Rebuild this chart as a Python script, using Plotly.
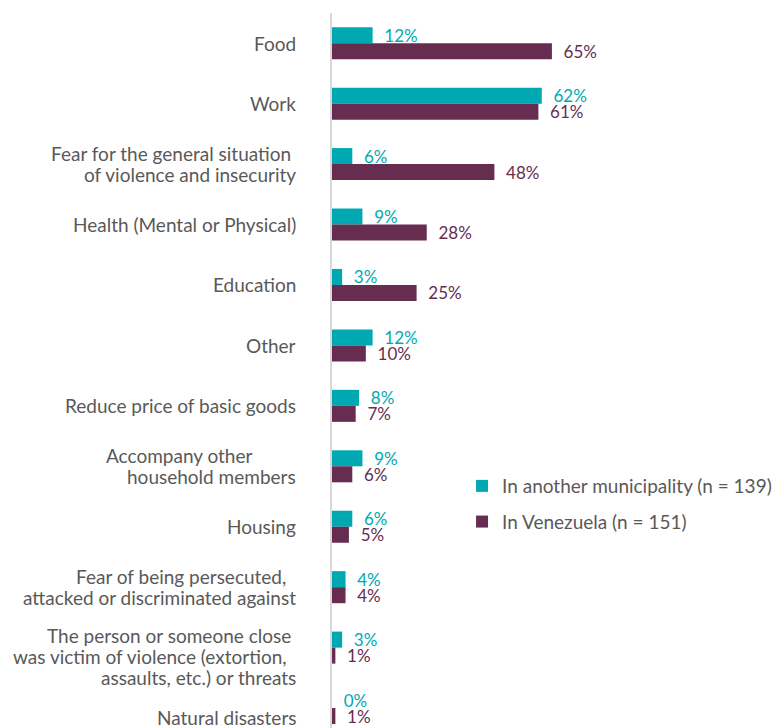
import plotly.graph_objects as go

NB = "\u00a0"

categories = [
    "Food",
    "Work",
    "Fear for the general situation" + NB + "<br>of violence and insecurity",
    "Health (Mental or Physical)",
    "Education",
    "Other",
    "Reduce price of basic goods",
    "Accompany other" + NB * 9 + "<br>household members",
    "Housing",
    "Fear of being persecuted," + NB * 2 + "<br>attacked or discriminated against",
    "The person or someone close" + NB + "<br>was victim of violence (extortion," + NB * 2
    + "<br>assaults, etc.) or threats",
    "Natural disasters",
]
another_municipality = [12, 62, 6, 9, 3, 12, 8, 9, 6, 4, 3, 0]
in_venezuela = [65, 61, 48, 28, 25, 10, 7, 6, 5, 4, 1, 1]

TEAL = "#00A9B1"
PURPLE = "#662D51"
GREY = "#595959"
FONT = "Lato"
LINE_H = 21  # px between wrapped label lines

fig = go.Figure()

series = [
    ("In another municipality (n = 139)", another_municipality, TEAL, "a"),
    ("In Venezuela (n = 151)", in_venezuela, PURPLE, "b"),
]
for name, vals, color, grp in series:
    fig.add_trace(go.Bar(
        y=categories, x=vals, orientation="h", name=name,
        marker=dict(color=color, line=dict(width=0)),
        text=[f"{NB * 2}{v}%" for v in vals],
        textposition="outside", cliponaxis=False, constraintext="none",
        textfont=dict(family=FONT, size=17, color=color),
        legendgroup=grp,
    ))

# category labels drawn line by line so the line spacing stays tight
for i, cat in enumerate(categories):
    lines = cat.split("<br>")
    n = len(lines)
    nudge = -9 if i >= len(categories) - 2 else 0
    for j, line in enumerate(lines):
        fig.add_annotation(
            x=0, xref="paper", y=cat, yref="y",
            text=line, showarrow=False,
            xanchor="right", yanchor="middle", align="right",
            xshift=-34, yshift=((n - 1) / 2 - j) * LINE_H + nudge,
            font=dict(family=FONT, size=19, color=GREY),
        )

# page body has an 8px margin, so the figure is 8px smaller and offsets shrink by 8
fig.update_layout(
    width=774, height=720,
    margin=dict(l=324, r=0, t=5, b=0, autoexpand=False),
    paper_bgcolor="white", plot_bgcolor="white",
    barmode="group", bargap=0.47, bargroupgap=0,
    font=dict(family=FONT, color=GREY, size=19),
    showlegend=True,
    legend=dict(
        x=0.289, y=0.365, xanchor="left", yanchor="top",
        traceorder="grouped", tracegroupgap=8,
        font=dict(family=FONT, size=19, color=GREY),
        bgcolor="rgba(0,0,0,0)",
    ),
    xaxis=dict(range=[0, 133], visible=False, fixedrange=True, automargin=False),
    yaxis=dict(
        type="category", categoryorder="array", categoryarray=categories,
        range=[11.33, -0.5], showgrid=False, zeroline=False, automargin=False,
        showline=True, linecolor="#D9D9D9", linewidth=2,
        ticks="", showticklabels=False,
    ),
)

fig.write_html("out.html")
